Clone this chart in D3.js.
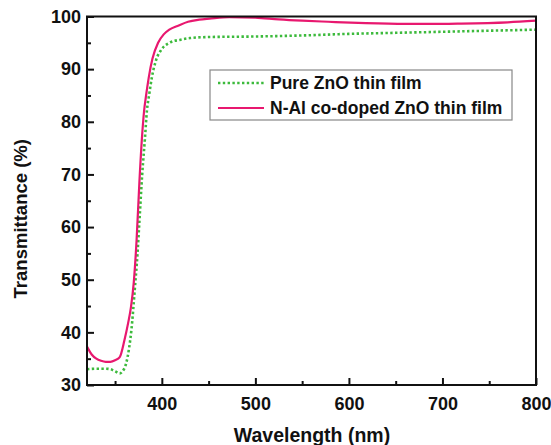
<!DOCTYPE html>
<html lang="en">
<head>
<meta charset="UTF-8">
<title>Transmittance</title>
<style>
  body, html { margin: 0; padding: 0; background: #fff; overflow: hidden; }
  svg { display: block; }
  text { font-family: "Liberation Sans", Arial, sans-serif; font-weight: bold; fill: #111; }
</style>
</head>
<body>
<svg></svg>
<script src="https://d3js.org/d3.v7.min.js"></script>
<script>
// Pure ZnO thin film (green dotted)
const pureWl = [320, 330, 340, 345, 350, 355, 358, 362, 365, 367.5, 371, 374, 376, 379, 382, 384, 386.5, 389.5, 394, 399.5, 408, 420, 430, 450, 500, 550, 600, 650, 700, 750, 800];
const pureT  = [33.0, 33.1, 33.1, 33.0, 32.6, 32.2, 32.6, 34.2, 37.0, 40.5, 48.0, 55.0, 61.0, 70.0, 77.0, 82.0, 85.2, 88.6, 91.8, 93.7, 95.0, 95.6, 95.9, 96.1, 96.2, 96.4, 96.7, 96.9, 97.1, 97.3, 97.5];

// N-Al co-doped ZnO thin film (pink solid)
const dopedWl = [320, 325, 330, 335, 340, 345, 350, 355, 360, 364, 367, 370, 373, 376, 379, 381, 383, 386, 390, 396, 402, 408, 418, 428, 440, 451, 472, 500, 525, 550, 578, 610, 660, 700, 720, 770, 800];
const dopedT  = [37.3, 35.8, 35.0, 34.6, 34.4, 34.4, 34.7, 35.3, 38.5, 41.8, 44.8, 49.5, 57.5, 68.5, 77.6, 82.0, 84.8, 88.4, 92.0, 95.0, 96.6, 97.5, 98.3, 99.0, 99.4, 99.6, 99.9, 99.8, 99.45, 99.2, 99.0, 98.8, 98.6, 98.6, 98.65, 98.9, 99.2];

const xTicks = [400, 500, 600, 700, 800];
const xMinor = [350, 450, 550, 650, 750];
const yTicks = [30, 40, 50, 60, 70, 80, 90, 100];
const yMinor = [35, 45, 55, 65, 75, 85, 95];

const seriesNames = ["Pure ZnO thin film", "N-Al co-doped ZnO thin film"];
const pink = "#e8186f", green = "#3cba3c";

const W = 551, H = 445;
const margin = { top: 16.5, right: 15, bottom: 60, left: 87 };

const svg = d3.select("svg").attr("width", W).attr("height", H);

const x = d3.scaleLinear().domain([320, 800]).range([margin.left, W - margin.right]);
const y = d3.scaleLinear().domain([30, 100]).range([H - margin.bottom, margin.top]);

const plot = svg.append("g");

// clip so curves stay in the frame
svg.append("clipPath").attr("id", "clip")
  .append("rect")
  .attr("x", x(320)).attr("y", y(100) - 2)
  .attr("width", x(800) - x(320)).attr("height", y(30) - y(100) + 2);

const line = d3.line().curve(d3.curveMonotoneX);

const pureData = pureWl.map((w, i) => [x(w), y(pureT[i])]);
const dopedData = dopedWl.map((w, i) => [x(w), y(dopedT[i])]);

plot.append("path")
  .attr("clip-path", "url(#clip)")
  .attr("d", line(pureData))
  .attr("fill", "none")
  .attr("stroke", green)
  .attr("stroke-width", 2.6)
  .attr("stroke-dasharray", "2.4,2.4");

plot.append("path")
  .attr("clip-path", "url(#clip)")
  .attr("d", line(dopedData))
  .attr("fill", "none")
  .attr("stroke", pink)
  .attr("stroke-width", 2.2);

// frame
svg.append("rect")
  .attr("x", x(320)).attr("y", y(100))
  .attr("width", x(800) - x(320)).attr("height", y(30) - y(100))
  .attr("fill", "none").attr("stroke", "#111").attr("stroke-width", 2);

// axes with inward ticks
const xAxis = d3.axisBottom(x).tickValues(xTicks).tickSizeInner(-7).tickSizeOuter(0).tickPadding(12);
const gx = svg.append("g").attr("transform", `translate(0,${y(30)})`).call(xAxis);
gx.select(".domain").remove();
gx.selectAll("line").attr("stroke", "#111").attr("stroke-width", 2);
gx.selectAll("text").style("font-size", "18px").style("font-family", null).attr("fill", "#111");

const xAxisMinor = d3.axisBottom(x).tickValues(xMinor).tickSizeInner(-4).tickSizeOuter(0).tickFormat("");
const gxm = svg.append("g").attr("transform", `translate(0,${y(30)})`).call(xAxisMinor);
gxm.select(".domain").remove();
gxm.selectAll("line").attr("stroke", "#111").attr("stroke-width", 2);

const yAxis = d3.axisLeft(y).tickValues(yTicks).tickSizeInner(-7).tickSizeOuter(0).tickPadding(6);
const gy = svg.append("g").attr("transform", `translate(${x(320)},0)`).call(yAxis);
gy.select(".domain").remove();
gy.selectAll("line").attr("stroke", "#111").attr("stroke-width", 2);
gy.selectAll("text").style("font-size", "18px").style("font-family", null).attr("fill", "#111");

const yAxisMinor = d3.axisLeft(y).tickValues(yMinor).tickSizeInner(-4).tickSizeOuter(0).tickFormat("");
const gym = svg.append("g").attr("transform", `translate(${x(320)},0)`).call(yAxisMinor);
gym.select(".domain").remove();
gym.selectAll("line").attr("stroke", "#111").attr("stroke-width", 2);

// axis titles
svg.append("text")
  .attr("x", 312)
  .attr("y", 442)
  .attr("text-anchor", "middle")
  .style("font-size", "19.5px")
  .text("Wavelength (nm)");

svg.append("text")
  .attr("transform", `translate(27,${(y(30) + y(100)) / 2 + 18}) rotate(-90)`)
  .attr("text-anchor", "middle")
  .style("font-size", "18.5px")
  .text("Transmittance (%)");

// legend
const lg = svg.append("g").attr("transform", "translate(210,70)");
lg.append("rect")
  .attr("width", 302).attr("height", 50)
  .attr("fill", "#fff").attr("stroke", "#888").attr("stroke-width", 1.2);

const legendRows = [
  { name: seriesNames[0], color: green, dash: "2.4,2.4", w: 2.6 },
  { name: seriesNames[1], color: pink, dash: null, w: 2.2 }
];
legendRows.forEach((d, i) => {
  const cy = 13 + i * 25;
  lg.append("line")
    .attr("x1", 8).attr("x2", 54).attr("y1", cy).attr("y2", cy)
    .attr("stroke", d.color).attr("stroke-width", d.w)
    .attr("stroke-dasharray", d.dash);
  lg.append("text")
    .attr("x", 60).attr("y", cy + 6)
    .style("font-size", "17.5px")
    .text(d.name);
});
</script>
</body>
</html>
